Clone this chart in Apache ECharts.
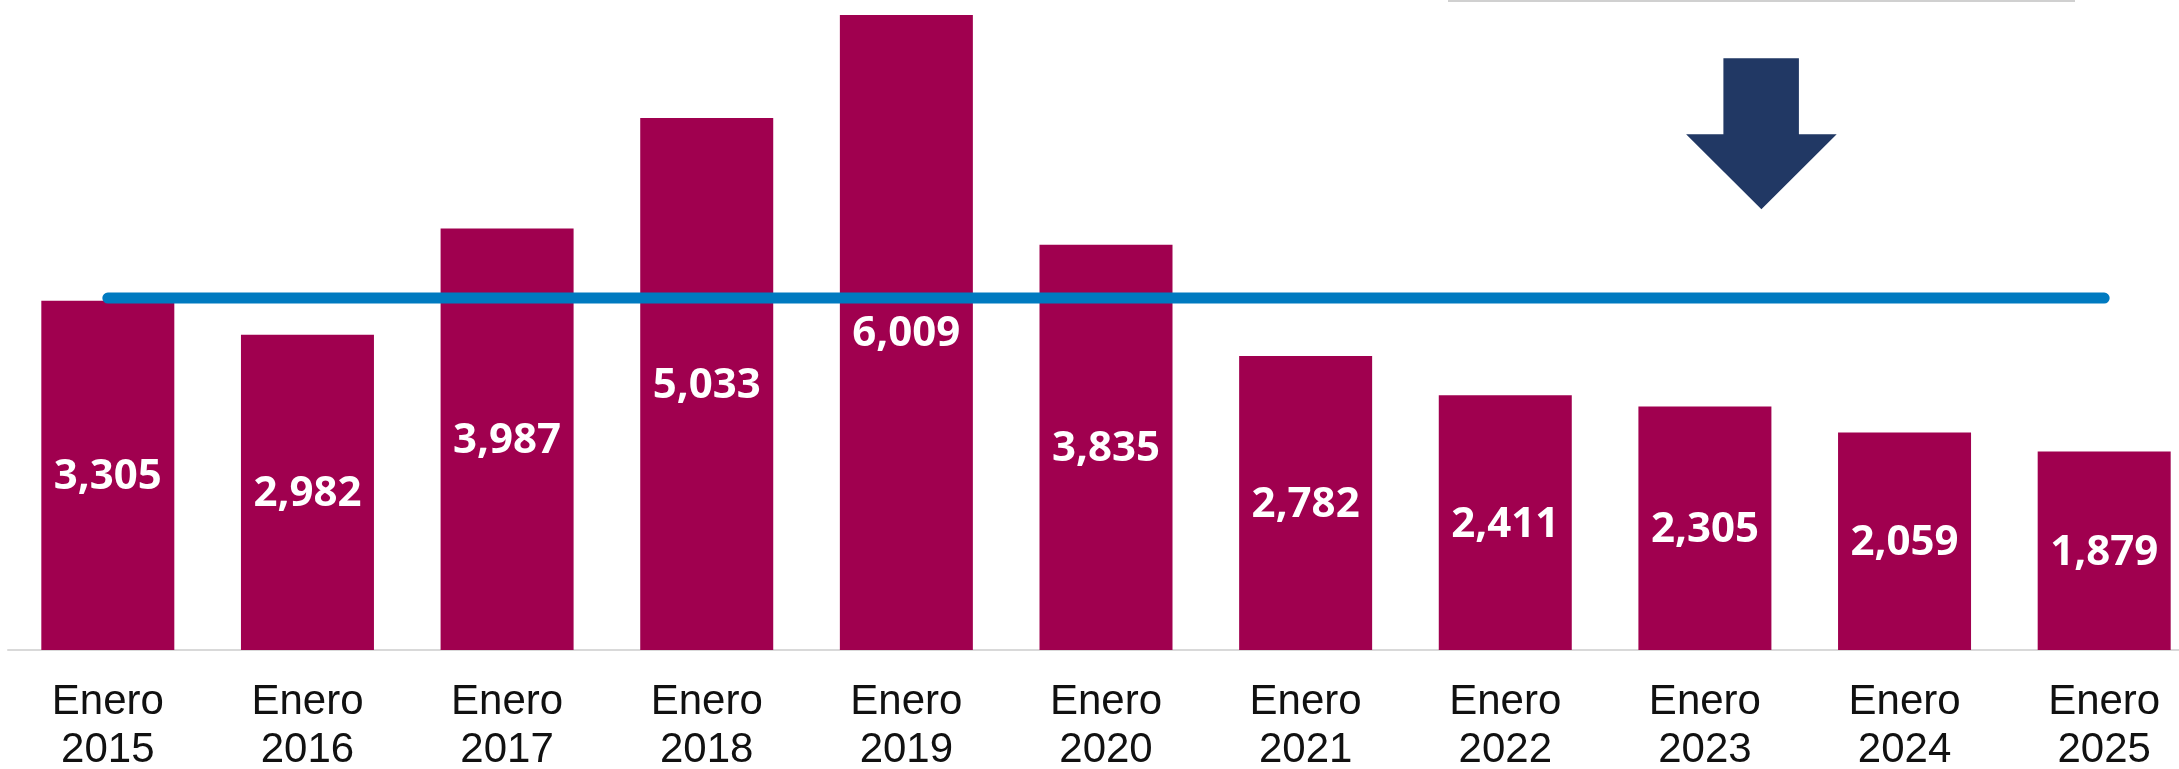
<!DOCTYPE html>
<html>
<head>
<meta charset="utf-8">
<script src="https://cdn.jsdelivr.net/npm/echarts@6/dist/echarts.min.js"></script>
<style>
  html, body { margin: 0; padding: 0; background: #ffffff; }
  #chart { width: 2179px; height: 769px; }
</style>
</head>
<body>
<div id="chart"></div>
<script>
// ---- Data ----
const categories = ['Enero 2015', 'Enero 2016', 'Enero 2017', 'Enero 2018', 'Enero 2019', 'Enero 2020',
                    'Enero 2021', 'Enero 2022', 'Enero 2023', 'Enero 2024', 'Enero 2025'];
const barValues = [3305, 2982, 3987, 5033, 6009, 3835, 2782, 2411, 2305, 2059, 1879];
const referenceLine = [3330, 3330, 3330, 3330, 3330, 3330, 3330, 3330, 3330, 3330, 3330];

// ---- Chart ----
const chart = echarts.init(document.getElementById('chart'), null, { renderer: 'canvas' });
chart.setOption({
  animation: false,
  backgroundColor: '#ffffff',
  grid: { left: 8, width: 2196, top: 0, height: 650, containLabel: false, outerBoundsMode: 'none' },
  xAxis: {
    type: 'category',
    data: categories,
    axisLine: { show: true, lineStyle: { color: '#d9d9d9', width: 2 } },
    axisTick: { show: false },
    axisLabel: {
      interval: 0,
      margin: 28,
      formatter: v => v.replace(' ', '\n'),
      fontFamily: '"Liberation Sans", Arial, sans-serif',
      fontSize: 42,
      lineHeight: 48,
      color: '#111111'
    },
    splitLine: { show: false }
  },
  yAxis: {
    type: 'value',
    min: 0,
    max: 6150,
    show: false,
    splitLine: { show: false }
  },
  series: [
    {
      type: 'bar',
      data: barValues,
      barWidth: 133,
      itemStyle: { color: '#A0004F' },
      label: {
        show: true,
        position: 'inside',
        offset: [0, 2],
        color: '#ffffff',
        fontFamily: '"Open Sans", "Noto Sans", sans-serif',
        fontWeight: 'bold',
        fontSize: 42,
        formatter: p => p.value.toLocaleString('en-US')
      },
      z: 2
    },
    {
      type: 'line',
      data: referenceLine,
      symbol: 'none',
      lineStyle: { color: '#007AC0', width: 11, cap: 'round' },
      z: 3
    }
  ],
  graphic: [
    {
      type: 'line',
      shape: { x1: 1448, y1: 1, x2: 2075, y2: 1 },
      style: { stroke: '#d0d0d0', lineWidth: 2 }
    },
    {
      type: 'polygon',
      shape: {
        points: [[1723.4, 58.3], [1798.9, 58.3], [1798.9, 134.3], [1836.7, 134.3],
                 [1761.4, 209.3], [1686.1, 134.3], [1723.4, 134.3]]
      },
      style: { fill: '#213864' }
    }
  ]
});
</script>
</body>
</html>
